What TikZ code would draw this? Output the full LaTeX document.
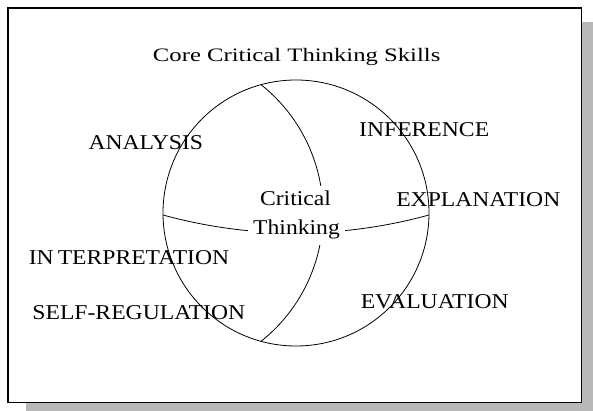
\documentclass[tikz,border=0pt]{standalone}
\usepackage{fontspec}
\setmainfont{Liberation Serif}
\newfontfamily\lblfont{Liberation Serif}[FakeStretch=1.12]
\newfontfamily\ttlfont{Liberation Serif}[FakeStretch=1.3]
\begin{document}
\begin{tikzpicture}[x=1pt,y=-1pt,
  lbl/.style={font=\lblfont\fontsize{21.1}{25}\selectfont, inner sep=0pt, anchor=base},
  ttl/.style={font=\ttlfont\fontsize{19}{22}\selectfont, inner sep=0pt, anchor=base},
  ctr/.style={font=\lblfont\fontsize{21.1}{25}\selectfont, anchor=base, fill=white,
              text height=15pt, text depth=5pt, inner xsep=5pt, inner ysep=5pt},
  ring/.style={line width=0.8pt},
  frame/.style={line width=1.1pt, fill=white},
  shadow/.style={fill=black!28}]
\useasboundingbox (0,0) rectangle (593,411);
% shadow and frame
\fill[shadow] (26,22) rectangle (593,411);
\draw[frame] (8,8) rectangle (581.5,402.5);
% circle and dividing arcs
\draw[ring] (296,213) circle[radius=133];
\draw[ring] plot[domain=-51.6:51.6, samples=90] ({159.3+163.75*cos(\x)}, {213+163.75*sin(\x)});
\draw[ring] plot[domain=105.41:74.59, samples=90] ({296+500.4*cos(\x)}, {-267.4+500.4*sin(\x)});
% centre text
\node[ctr] (crit) at (295.5,206) {Critical};
\node[ctr] (think) at (296.5,235) {Thinking};
% title
\node[ttl] (title) at (296.7,61.3) {Core Critical Thinking Skills};
% skill labels
\node[lbl] (analysis) at (145.8,150) {ANALYSIS};
\node[lbl] (inference) at (424.2,136.7) {INFERENCE};
\node[lbl] (explanation) at (478.3,206.7) {EXPLANATION};
\node[lbl] (interpretation) at (129,264.3) {IN\kern4ptTERPRETATION};
\node[lbl] (selfreg) at (138.8,319.3) {SELF-REGULATION};
\node[lbl] (evaluation) at (434.7,308) {EVALUATION};
\end{tikzpicture}
\end{document}
